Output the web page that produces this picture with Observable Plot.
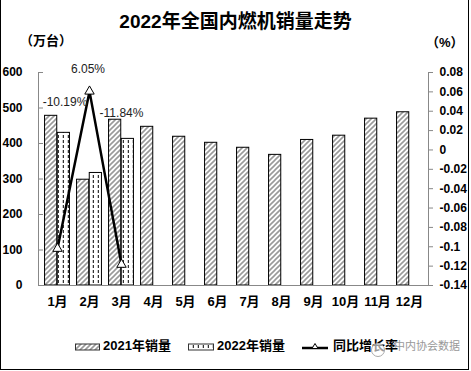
<!DOCTYPE html>
<html><head><meta charset="utf-8">
<script src="https://cdn.jsdelivr.net/npm/d3@7"></script>
<script src="https://cdn.jsdelivr.net/npm/@observablehq/plot@0.6"></script>
<style>
html,body{margin:0;padding:0;background:#fff;}
#wrap{position:relative;width:471px;height:371px;overflow:hidden;font-family:"Liberation Sans","Noto Sans CJK SC",sans-serif;background:#fff;}
.abs{position:absolute;white-space:nowrap;}
#title{left:0;width:471px;top:10px;text-align:center;font-size:19px;font-weight:bold;line-height:24px;color:#000;}
#unitL{left:20px;top:33px;font-size:13px;font-weight:bold;line-height:16px;}
#unitR{left:426px;top:35px;font-size:13px;font-weight:bold;line-height:16px;}
#border{position:absolute;left:0;top:0;width:469px;height:370px;box-sizing:border-box;border:1px solid #000;border-top:none;pointer-events:none;}
#chart{position:absolute;left:0;top:0;}
#legend{position:absolute;left:0;top:330px;}
</style>
</head><body>
<svg width="0" height="0" style="position:absolute">
  <defs>
    <pattern id="hatch" patternUnits="userSpaceOnUse" width="5" height="5">
      <rect width="5" height="5" fill="#fff"/>
      <path d="M-1,1 l2,-2 M0,5 l5,-5 M4,6 l2,-2" stroke="#9a9a9a" stroke-width="1.6"/>
    </pattern>
    <pattern id="dash" patternUnits="userSpaceOnUse" width="5" height="5">
      <rect width="5" height="5" fill="#fff"/>
      <line x1="3.3" y1="0" x2="3.3" y2="3" stroke="#000" stroke-width="1"/>
    </pattern>
  </defs>
</svg>
<div id="wrap">
  <div id="chart"></div>
  <div id="title" class="abs">2022年全国内燃机销量走势</div>
  <div id="unitL" class="abs">（万台）</div>
  <div id="unitR" class="abs">（%）</div>
  <div id="legend"></div>
  <div id="border"></div>
</div>
<script>
// ---- data ----
const months = ["1月","2月","3月","4月","5月","6月","7月","8月","9月","10月","11月","12月"];
const sales2021 = [478, 298, 467, 447, 419, 402, 388, 368, 410, 422, 470, 488];
const sales2022 = [430, 317, 413];
const growth = [-0.1019, 0.0605, -0.1184];
const growthLabels = ["-10.19%", "6.05%", "-11.84%"];
const leftTicks = [0, 100, 200, 300, 400, 500, 600];
const rightTicks = [0.08, 0.06, 0.04, 0.02, 0, -0.02, -0.04, -0.06, -0.08, -0.1, -0.12, -0.14];
const seriesNames = ["2021年销量", "2022年销量", "同比增长率"];

// ---- layout ----
const W = 471, H = 310, mL = 38, mR = 43, mT = 72, mB = 25;
const frameW = W - mL - mR;
const bw = frameW / months.length;
const barW = 12.7;
const leftMax = Math.max(...leftTicks);
const rMin = Math.min(...rightTicks), rMax = Math.max(...rightTicks);
const toLeft = g => (g - rMin) / (rMax - rMin) * leftMax;
const fromLeft = v => +(v / leftMax * (rMax - rMin) + rMin).toFixed(2);

const rows = months.map((m, i) => ({month: m, v2021: sales2021[i], v2022: sales2022[i]}));
const rows22 = rows.filter(d => d.v2022 != null);
const growthRows = growth.map((g, i) => ({month: months[i], g, label: growthLabels[i]}));
const labelOffsets = [[7.5, -146], [-1.5, -22], [0, -151]];

const font = '"Liberation Sans","Noto Sans CJK SC",sans-serif';
const plot = Plot.plot({
  width: W, height: H, marginTop: mT, marginBottom: mB, marginLeft: mL, marginRight: mR,
  style: {fontFamily: font, background: "transparent", color: "#000"},
  x: {domain: months, padding: 0, label: null},
  y: {domain: [0, leftMax], label: null},
  marks: [
    Plot.barY(rows, {x: "month", y: "v2021", fill: "url(#hatch)", stroke: "#000", strokeWidth: 1,
      insetLeft: bw / 2 - barW, insetRight: bw / 2}),
    Plot.barY(rows22, {x: "month", y: "v2022", fill: "url(#dash)", stroke: "#000", strokeWidth: 1,
      insetLeft: bw / 2, insetRight: bw / 2 - barW}),
    Plot.frame({anchor: "left", stroke: "#888"}),
    Plot.frame({anchor: "right", stroke: "#888"}),
    Plot.frame({anchor: "bottom", stroke: "#888"}),
    Plot.tickY(leftTicks, {y: d => d, stroke: "#888", insetRight: frameW - 5}),
    Plot.axisY(leftTicks, {anchor: "left", tickSize: 0, tickPadding: 16, fontWeight: "bold", fontSize: 12,
      fill: "#000", label: null, tickFormat: d => String(d)}),
    Plot.axisY(rightTicks.map(toLeft), {anchor: "right", tickSize: 4, tickPadding: 7, stroke: "#888",
      fill: "#000", fontWeight: "bold", fontSize: 12, label: null, tickFormat: v => String(fromLeft(v))}),
    Plot.axisX({tickSize: 0, tickPadding: 11, fontWeight: "bold", fontSize: 13, fill: "#000", label: null}),
    Plot.line(growthRows, {x: "month", y: d => toLeft(d.g), stroke: "#000", strokeWidth: 2.5}),
    Plot.dot(growthRows, {x: "month", y: d => toLeft(d.g), symbol: "triangle", r: 3.5, fill: "#fff",
      stroke: "#000", strokeWidth: 1}),
    ...growthRows.map((d, i) => Plot.text([d], {x: "month", y: r => toLeft(r.g), text: "label",
      dx: labelOffsets[i][0], dy: labelOffsets[i][1], fontSize: 12, fill: "#222"}))
  ]
});
document.getElementById("chart").appendChild(plot);

// ---- legend ----
const ns = "http://www.w3.org/2000/svg";
const lg = document.createElementNS(ns, "svg");
lg.setAttribute("width", 471); lg.setAttribute("height", 40);
const add = (tag, attrs, text) => {
  const el = document.createElementNS(ns, tag);
  for (const k in attrs) el.setAttribute(k, attrs[k]);
  if (text != null) el.textContent = text;
  lg.appendChild(el); return el;
};
const ty = 15, sy = 14;
add("rect", {x: 75.5, y: sy, width: 24, height: 6, fill: "url(#hatch)", stroke: "#333"});
add("text", {x: 103, y: ty, "dominant-baseline": "central", "font-size": 13, "font-weight": "bold", "font-family": font}, seriesNames[0]);
add("rect", {x: 188.5, y: sy, width: 25, height: 6, fill: "url(#dash)", stroke: "#333"});
add("text", {x: 217, y: ty, "dominant-baseline": "central", "font-size": 13, "font-weight": "bold", "font-family": font}, seriesNames[1]);
add("line", {x1: 302, x2: 328, y1: 18, y2: 18, stroke: "#000", "stroke-width": 2.5});
add("path", {d: "M315,13.5 L318,18.5 L312,18.5 Z", fill: "#fff", stroke: "#000", "stroke-width": 1});
add("text", {x: 333, y: ty, "dominant-baseline": "central", "font-size": 13, "font-weight": "bold", "font-family": font}, seriesNames[2]);
// watermark
add("circle", {cx: 378, cy: 20, r: 6.5, fill: "rgba(255,255,255,0.6)", stroke: "#aaa", "stroke-width": 1});
add("text", {x: 394, y: 16, "dominant-baseline": "central", "font-size": 11, fill: "#999", stroke: "#fff", "stroke-width": 0.6, "paint-order": "stroke", "font-family": font}, "中内协会数据");
document.getElementById("legend").appendChild(lg);
</script>
</body></html>
